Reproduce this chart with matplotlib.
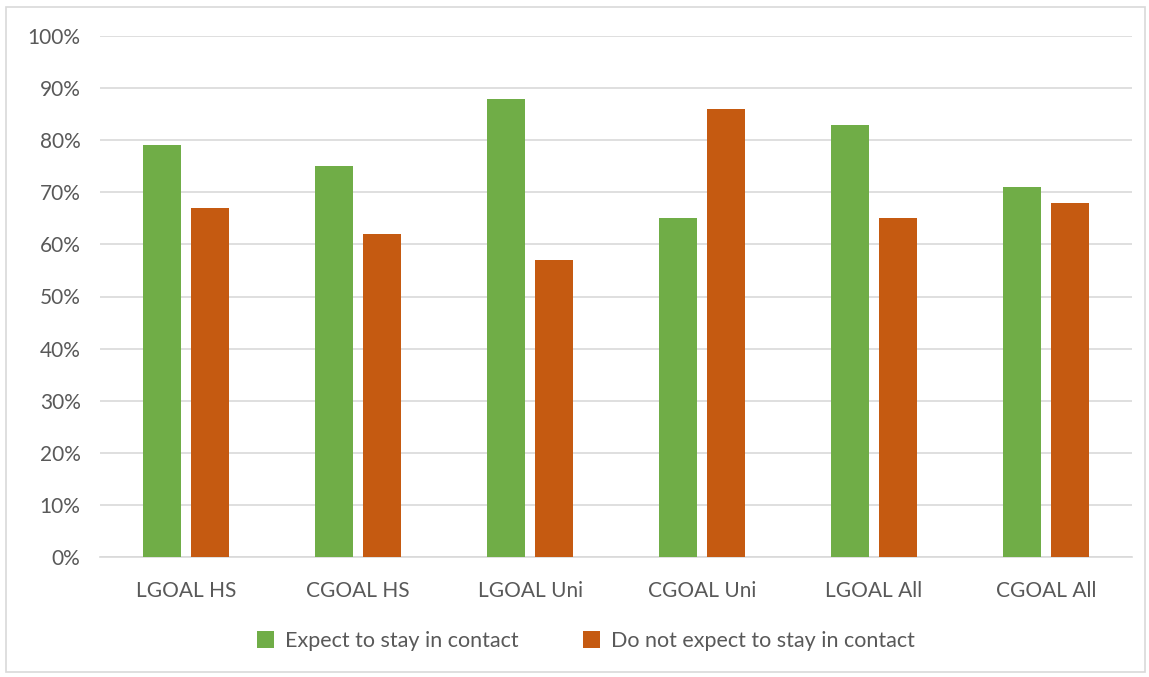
import numpy as np
import matplotlib.pyplot as plt
from matplotlib.patches import Rectangle
from matplotlib.ticker import PercentFormatter

plt.rcParams['font.family'] = ['Lato', 'DejaVu Sans']

categories = ['LGOAL HS', 'CGOAL HS', 'LGOAL Uni', 'CGOAL Uni', 'LGOAL All', 'CGOAL All']
expect = [79, 75, 88, 65, 83, 71]
not_expect = [67, 62, 57, 86, 65, 68]

green = '#70AD47'
orange = '#C55A11'
text_col = '#595959'
grid_col = '#D9D9D9'

fig = plt.figure(figsize=(11.49, 6.77), dpi=100)
ax = fig.add_axes([100 / 1149, 1 - 557 / 677, 1032 / 1149, 521 / 677])

# outer chart border
fig.patches.append(Rectangle((6 / 1149, 1 - 672 / 677), 1139 / 1149, 665 / 677,
                             transform=fig.transFigure, fill=False,
                             edgecolor='#D9D9D9', linewidth=1.2))

x = np.arange(len(categories))
w = 0.22
ax.bar(x - 0.14, expect, w, color=green, label='Expect to stay in contact', zorder=3)
ax.bar(x + 0.14, not_expect, w, color=orange, label='Do not expect to stay in contact', zorder=3)

ax.set_xlim(-0.5, len(categories) - 0.5)
ax.set_ylim(0, 100)
ax.set_yticks(range(0, 101, 10))
ax.yaxis.set_major_formatter(PercentFormatter(decimals=0))
ax.set_xticks(x)
ax.set_xticklabels(categories)
ax.grid(axis='y', color=grid_col, linewidth=1.2, zorder=0)
for s in ['top', 'right', 'left']:
    ax.spines[s].set_visible(False)
ax.spines['bottom'].set_color(grid_col)
ax.spines['bottom'].set_linewidth(1.2)
ax.tick_params(length=0, labelsize=15, colors=text_col)
ax.tick_params(axis='y', pad=14)
ax.tick_params(axis='x', pad=17)

# legend centred on the whole chart, below the axis
leg = fig.legend(loc='center', bbox_to_anchor=(0.51, 1 - 641 / 677), ncol=2,
                 frameon=False, fontsize=15.5, handlelength=0.8, handleheight=0.8,
                 handletextpad=0.5, columnspacing=3.0)
for t in leg.get_texts():
    t.set_color(text_col)

fig.savefig('out.png', dpi=100)
